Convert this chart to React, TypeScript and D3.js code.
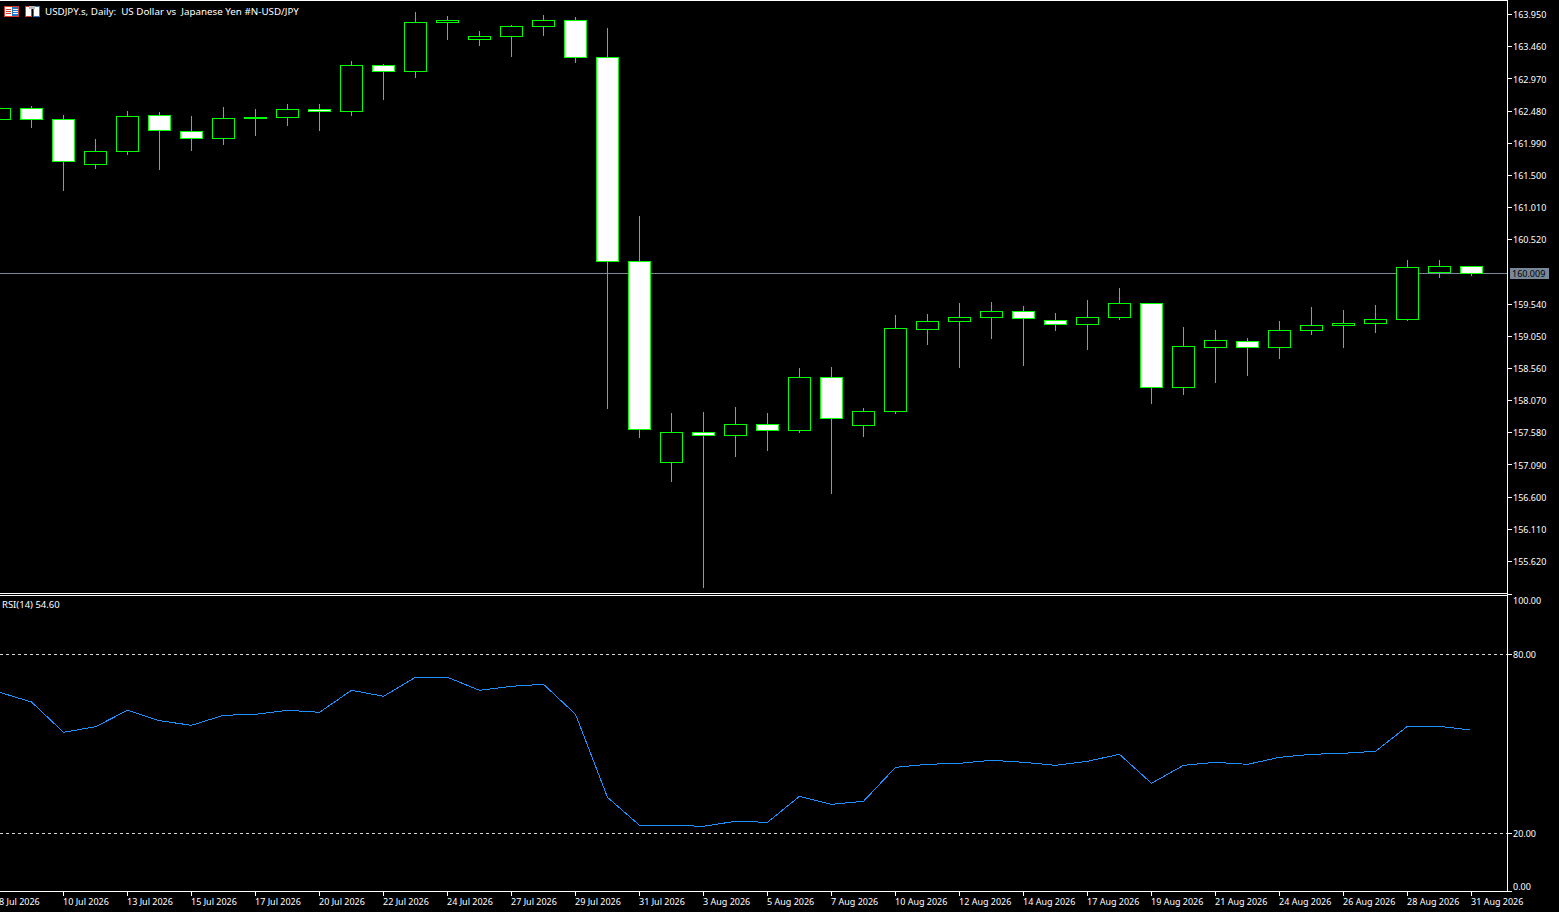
import React from "react";
import * as d3 from "d3";

const WIDTH = 1559;
const HEIGHT = 912;

const opens = [162.351,162.518,162.351,161.665,161.863,162.411,162.168,162.061,162.366,162.381,162.503,162.472,163.173,163.082,163.828,163.569,163.615,163.767,163.859,163.295,160.188,157.126,157.583,157.537,157.705,157.613,158.421,157.690,157.903,159.152,159.274,159.335,159.426,159.289,159.228,159.335,159.548,158.268,158.878,158.969,158.878,159.137,159.213,159.243,159.304,160.020,160.112];
const highs = [162.518,162.549,162.411,162.046,162.472,162.457,162.396,162.533,162.503,162.579,162.579,163.234,163.188,163.980,163.919,163.691,163.782,163.935,163.904,163.737,160.873,157.872,157.888,157.964,157.872,158.558,158.573,157.948,159.365,159.380,159.548,159.563,159.502,159.396,159.594,159.776,159.548,159.182,159.137,159.015,159.274,159.487,159.441,159.517,160.203,160.203,160.112];
const lows = [162.351,162.213,161.254,161.589,161.802,161.574,161.863,161.955,162.092,162.244,162.168,162.396,162.640,162.975,163.554,163.462,163.295,163.615,163.204,157.933,157.492,156.821,155.207,157.202,157.294,157.568,156.639,157.507,157.857,158.908,158.558,159.000,158.588,159.121,158.832,159.289,158.009,158.147,158.329,158.436,158.695,159.061,158.863,159.091,159.274,159.929,159.959];
const closes = [162.518,162.351,161.711,161.863,162.396,162.183,162.061,162.366,162.381,162.503,162.472,163.173,163.082,163.828,163.859,163.615,163.767,163.859,163.295,160.188,157.629,157.583,157.537,157.705,157.613,158.421,157.796,157.903,159.167,159.274,159.335,159.426,159.319,159.228,159.335,159.548,158.268,158.893,158.984,158.878,159.137,159.213,159.243,159.304,160.096,160.112,160.005];
const rsiValues = [67.28,64.03,53.87,55.75,61.25,57.76,56.22,59.57,59.91,61.25,60.58,67.95,65.94,72.31,72.31,67.95,69.29,69.96,59.91,32.08,22.70,22.70,22.36,24.04,23.70,32.42,29.73,30.74,42.14,43.14,43.48,44.49,43.81,42.81,44.15,46.50,36.77,42.81,43.81,43.14,45.49,46.50,46.83,47.50,55.88,55.88,54.60];

const priceTicks = [163.95,163.46,162.97,162.48,161.99,161.5,161.01,160.52,159.54,159.05,158.56,158.07,157.58,157.09,156.6,156.11,155.62];
const rsiTicks = [100,80,20,0];
const rsiLevels = [80,20];
const dateLabels = ["8 Jul 2026","10 Jul 2026","13 Jul 2026","15 Jul 2026","17 Jul 2026","20 Jul 2026","22 Jul 2026","24 Jul 2026","27 Jul 2026","29 Jul 2026","31 Jul 2026","3 Aug 2026","5 Aug 2026","7 Aug 2026","10 Aug 2026","12 Aug 2026","14 Aug 2026","17 Aug 2026","19 Aug 2026","21 Aug 2026","24 Aug 2026","26 Aug 2026","28 Aug 2026","31 Aug 2026"];
const lastPrice = 160.009;
const title = "USDJPY.s, Daily:  US Dollar vs  Japanese Yen #N-USD/JPY";
const rsiTitle = "RSI(14) 54.60";

const FONT = "'Noto Sans', sans-serif";
const GREEN = "#00ff00";
const AXIS_X = 1507.5;
const AXIS_BOTTOM = 892;

const x = d3.scaleLinear().domain([0, 46]).range([-0.5, 1471.5]);
const y = d3.scaleLinear().domain([163.95, 155.62]).range([14.5, 561.36]);
const yR = d3.scaleLinear().domain([100, 0]).range([594.7, 893]);
const snap = (v: number) => Math.floor(v) + 0.5;
const rsiPath = d3.line<number>().x((_, i) => x(i)).y((d) => yR(d))(rsiValues) || "";

const Icons = () => (
  <g shapeRendering="crispEdges">
    <rect x={4.5} y={6.5} width={14} height={10} fill="#fff" stroke="#d8392b" />
    <rect x={12} y={7} width={6} height={9} fill="#1f78c8" />
    <path d="M6 9.5H11M6 11.5H11M6 13.5H11" stroke="#d8392b" />
    <path d="M13 9.5H18M13 11.5H18M13 13.5H18" stroke="#fff" />
    <rect x={25.5} y={6.5} width={6} height={10} fill="#fff" stroke="#d8392b" />
    <rect x={33.5} y={6.5} width={6} height={10} fill="#fff" stroke="#1f78c8" />
    <rect x={29} y={6} width={6} height={3} fill="#bbb" />
  </g>
);

export default function App() {
  return (
    <svg
      width={WIDTH}
      height={HEIGHT}
      style={{ position: "fixed", left: 0, top: 0, background: "#000", display: "block" }}
      fontFamily={FONT}
      fontSize={9}
    >
      <rect width={WIDTH} height={HEIGHT} fill="#000" />

      {/* last price line */}
      <line x1={0} x2={AXIS_X} y1={snap(y(lastPrice))} y2={snap(y(lastPrice))} stroke="#778899" shapeRendering="crispEdges" />

      {/* candles */}
      <g shapeRendering="crispEdges" stroke={GREEN}>
        {opens.map((o, i) => {
          const c = closes[i];
          const top = snap(y(Math.max(o, c)));
          const bot = snap(y(Math.min(o, c)));
          return (
            <g key={i}>
              <line x1={x(i)} x2={x(i)} y1={Math.floor(y(highs[i]))} y2={Math.floor(y(lows[i]))} />
              <rect x={x(i) - 11} y={top} width={22} height={bot - top} fill={c < o ? "#fff" : "#000"} />
            </g>
          );
        })}
      </g>

      {/* RSI */}
      {rsiLevels.map((l) => (
        <line key={l} x1={0} x2={AXIS_X} y1={snap(yR(l))} y2={snap(yR(l))} stroke="#d8d8d8" strokeDasharray="3 3" shapeRendering="crispEdges" />
      ))}
      <path d={rsiPath} fill="none" stroke="#1e90ff" strokeWidth={1} shapeRendering="crispEdges" />

      {/* frames */}
      <g stroke="#fff" shapeRendering="crispEdges">
        <line x1={0} x2={AXIS_X} y1={0.5} y2={0.5} />
        <line x1={0} x2={AXIS_X} y1={593.5} y2={593.5} />
        <line x1={0} x2={AXIS_X} y1={595.5} y2={595.5} />
        <line x1={0} x2={AXIS_X} y1={AXIS_BOTTOM - 0.5} y2={AXIS_BOTTOM - 0.5} />
        <line x1={AXIS_X} x2={AXIS_X} y1={0} y2={AXIS_BOTTOM} />
      </g>

      {/* price axis */}
      {priceTicks.map((t) => (
        <g key={t}>
          <line x1={AXIS_X} x2={AXIS_X + 4} y1={snap(y(t))} y2={snap(y(t))} stroke="#fff" shapeRendering="crispEdges" />
          <text x={1513} y={y(t) + 3.8} fill="#fff">{d3.format(".3f")(t)}</text>
        </g>
      ))}

      {/* last price tag */}
      <rect x={1510} y={snap(y(lastPrice)) - 5.5} width={39} height={11} fill="#778899" />
      <text x={1512} y={y(lastPrice) + 4} fill="#000">{d3.format(".3f")(lastPrice)}</text>

      {/* RSI axis */}
      {rsiTicks.map((t) => (
        <g key={t}>
          <line x1={AXIS_X} x2={AXIS_X + 4} y1={Math.min(snap(yR(t)), AXIS_BOTTOM - 0.5)} y2={Math.min(snap(yR(t)), AXIS_BOTTOM - 0.5)} stroke="#fff" shapeRendering="crispEdges" />
          <text x={1513} y={Math.max(600, Math.min(886, yR(t))) + 3.5} fill="#fff">{d3.format(".2f")(t)}</text>
        </g>
      ))}

      {/* time axis */}
      {dateLabels.map((d, i) => (
        <g key={d}>
          <line x1={x(i * 2)} x2={x(i * 2)} y1={AXIS_BOTTOM} y2={AXIS_BOTTOM + 4} stroke="#fff" shapeRendering="crispEdges" />
          <text x={x(i * 2) - 0.5} y={905} fill="#fff">{d}</text>
        </g>
      ))}

      <Icons />
      <text x={45} y={15} fill="#fff" fontSize={9.8} style={{ whiteSpace: "pre" }}>{title}</text>
      <text x={2} y={608} fill="#fff" fontSize={9.5}>{rsiTitle}</text>
    </svg>
  );
}
